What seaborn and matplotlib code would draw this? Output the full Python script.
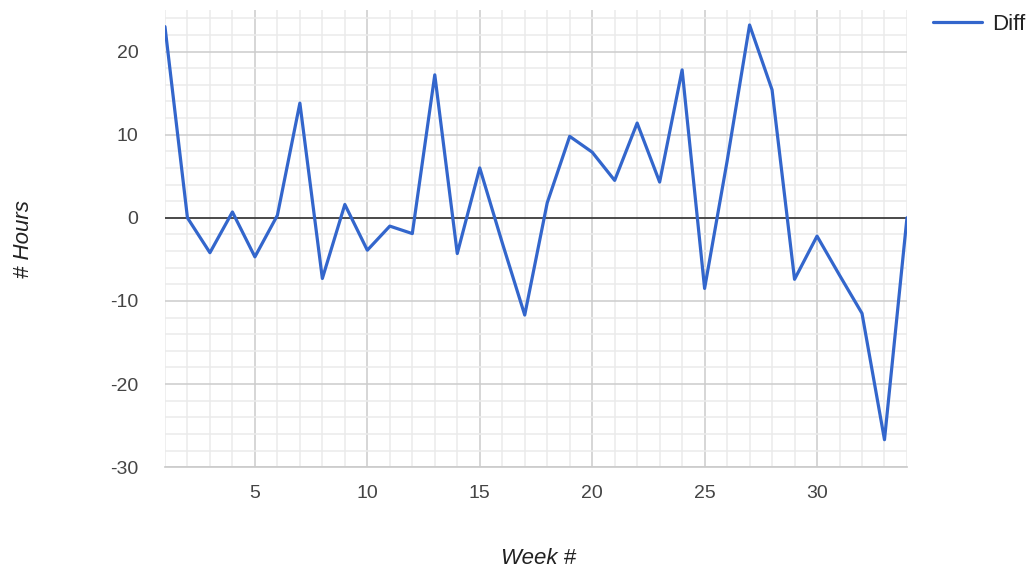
# weekly hours difference line chart
import numpy as np
import pandas as pd
import matplotlib
matplotlib.use('Agg')
import matplotlib.pyplot as plt
from matplotlib.ticker import MultipleLocator
import seaborn as sns

weeks = list(range(1, 35))
diff = [23.0, 0.0, -4.2, 0.7, -4.7, 0.3, 13.8, -7.3, 1.6, -3.9,
        -1.0, -1.9, 17.2, -4.3, 6.0, -3.0, -11.7, 1.8, 9.8, 7.9,
        4.5, 11.4, 4.3, 17.8, -8.5, 6.8, 23.2, 15.4, -7.4, -2.2,
        -6.9, -11.5, -26.7, 0.0]
x_ticks = [5, 10, 15, 20, 25, 30]
y_ticks = [-30, -20, -10, 0, 10, 20]

df = pd.DataFrame({'Week #': weeks, 'Diff': diff})

sns.set_theme(style='white')
plt.rcParams['font.family'] = ['Liberation Sans', 'DejaVu Sans']
plt.rcParams['axes.unicode_minus'] = False

fig = plt.figure(figsize=(10.31, 5.76), dpi=100)
ax = fig.add_axes([0.16, 0.189, 0.7197, 0.7936])

sns.lineplot(data=df, x='Week #', y='Diff', color='#3366cc', linewidth=2.3,
             label='Diff', ax=ax, zorder=5)

ax.set_xlim(1, 34)
ax.set_ylim(-30, 25)
ax.set_xticks(x_ticks)
ax.set_yticks(y_ticks)
ax.xaxis.set_minor_locator(MultipleLocator(1))
ax.yaxis.set_minor_locator(MultipleLocator(2))
ax.grid(which='major', color='#cccccc', linewidth=1.1)
ax.grid(which='minor', color='#ebebeb', linewidth=1.1)
ax.set_axisbelow(True)
ax.axhline(0, color='#333333', linewidth=1.2, zorder=4)
for s in ['left', 'right', 'top']:
    ax.spines[s].set_visible(False)
ax.spines['bottom'].set_color('#cccccc')
ax.tick_params(which='both', length=0, labelsize=14, labelcolor='#444444')
ax.tick_params(axis='y', pad=19)
ax.tick_params(axis='x', pad=13)

ax.set_xlabel('Week #', fontsize=16, style='italic', color='#222222', va='center')
ax.set_ylabel('# Hours', fontsize=16, style='italic', color='#222222', va='center')
ax.xaxis.set_label_coords(0.503, -0.2)
ax.yaxis.set_label_coords(-0.19, 0.5)

ax.legend(loc='upper left', bbox_to_anchor=(1.008, 1.035), frameon=False,
          fontsize=16, handlelength=2.2, handletextpad=0.45, labelcolor='#222222')

fig.savefig('out.png', dpi=100)
